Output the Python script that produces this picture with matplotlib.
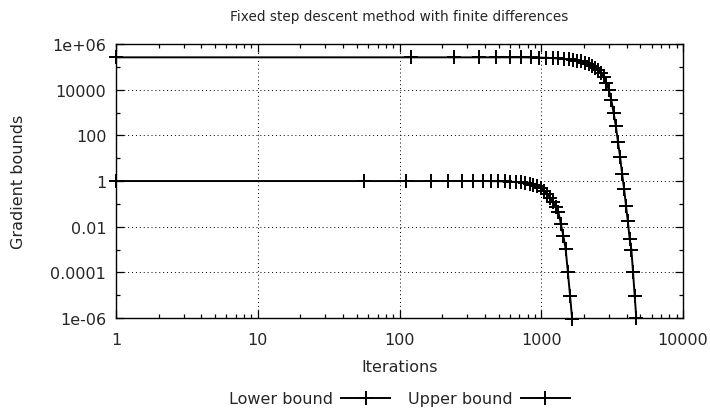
import numpy as np
import matplotlib
matplotlib.use('Agg')
import matplotlib.pyplot as plt
from matplotlib.ticker import FixedLocator, NullFormatter

# Iterations at which the markers are drawn
LOWER_ITER = [1, 56, 111, 166, 221, 276, 331, 386, 441, 496, 551, 606, 661,
              716, 771, 826, 881, 936, 991, 1046, 1101, 1156, 1211, 1266,
              1321, 1376, 1431, 1486, 1541, 1596, 1651, 1706]
LOWER_VAL = [1.0, 1.0, 1.0, 1.0, 1.0, 1.0, 1.0, 1.0, 0.99, 0.98, 0.955, 0.93,
             0.91, 0.87, 0.83, 0.78, 0.69, 0.59, 0.48, 0.37, 0.27, 0.19,
             0.12, 0.071, 0.043, 0.013, 4.0e-3, 1.05e-3, 1.0e-4, 9.5e-6,
             9.1e-7, 1.0e-7]

UPPER_ITER = [1, 121, 241, 361, 481, 601, 721, 841, 961, 1081, 1201, 1321,
              1441, 1561, 1681, 1801, 1921, 2041, 2161, 2281, 2401, 2521,
              2641, 2761, 2881, 3001, 3121, 3241, 3361, 3481, 3601, 3721,
              3841, 3961, 4081, 4201, 4321, 4441, 4561, 4681, 4801]
UPPER_VAL = [2.63e5, 2.63e5, 2.63e5, 2.63e5, 2.63e5, 2.63e5, 2.63e5, 2.6e5,
             2.57e5, 2.51e5, 2.45e5, 2.34e5, 2.24e5, 2.14e5, 2.0e5, 1.86e5,
             1.74e5, 1.55e5, 1.35e5, 1.15e5, 9.3e4, 7.2e4, 5.2e4, 3.5e4,
             2.0e4, 9.5e3, 3.5e3, 9.5e2, 2.5e2, 49.0, 11.0, 2.0, 0.45, 0.083,
             0.017, 3.0e-3, 1.0e-3, 1.0e-4, 9.5e-6, 1.0e-6, 1.0e-7]

X_TICKS = [1, 10, 100, 1000, 10000]
X_TICK_LABELS = ["1", "10", "100", "1000", "10000"]
Y_TICKS = [1e-6, 1e-4, 1e-2, 1, 1e2, 1e4, 1e6]
Y_TICK_LABELS = ["1e-06", "0.0001", "0.01", "1", "100", "10000", "1e+06"]
Y_MINOR = [1e-5, 1e-3, 1e-1, 10, 1e3, 1e5]

X_RANGE = (1, 10000)
Y_RANGE = (1e-6, 1e6)

TEXT_COLOR = "#262626"
FS = 11.5


def draw_series(ax, xs, ys, label):
    """Line clipped to the frame, '+' markers allowed to stick out of it."""
    line_kw = dict(color="black", linewidth=1.4)
    mark_kw = dict(color="black", linestyle="none", marker="+",
                   markersize=10, markeredgewidth=1.4)
    ax.plot(xs, ys, **line_kw)
    inside = [(x, y) for x, y in zip(xs, ys) if Y_RANGE[0] * 0.9 <= y <= Y_RANGE[1]]
    mx, my = zip(*inside)
    ax.plot(mx, my, clip_on=False, **mark_kw)
    # legend proxy (line + marker)
    ax.plot([], [], label=label, **line_kw, marker="+", markersize=10,
            markeredgewidth=1.4)


def main():
    fig = plt.figure(figsize=(7.1, 4.1), dpi=100)
    ax = fig.add_axes([0.1634, 0.222, 0.7986, 0.668])

    draw_series(ax, LOWER_ITER, LOWER_VAL, "Lower bound")
    draw_series(ax, UPPER_ITER, UPPER_VAL, "Upper bound")

    ax.set_xscale("log")
    ax.set_yscale("log")
    ax.set_xlim(*X_RANGE)
    ax.set_ylim(*Y_RANGE)

    ax.xaxis.set_major_locator(FixedLocator(X_TICKS))
    ax.set_xticklabels(X_TICK_LABELS)
    ax.xaxis.set_minor_locator(FixedLocator(
        [m * d for d in [1, 10, 100, 1000] for m in range(2, 10)]))
    ax.xaxis.set_minor_formatter(NullFormatter())

    ax.yaxis.set_major_locator(FixedLocator(Y_TICKS))
    ax.set_yticklabels(Y_TICK_LABELS)
    ax.yaxis.set_minor_locator(FixedLocator(Y_MINOR))
    ax.yaxis.set_minor_formatter(NullFormatter())

    ax.tick_params(which="both", direction="in", top=True, right=True,
                   labelsize=FS, labelcolor=TEXT_COLOR, width=0.9)
    ax.tick_params(which="major", length=6)
    ax.tick_params(which="minor", length=3)
    ax.tick_params(axis="x", which="major", pad=10)
    ax.tick_params(axis="y", which="major", pad=7)

    ax.grid(True, which="major", color="black", linestyle=(0, (1, 3)),
            linewidth=0.7)
    for sp in ax.spines.values():
        sp.set_linewidth(1.0)

    ax.set_title("Fixed step descent method with finite differences",
                 fontsize=9.8, color=TEXT_COLOR, pad=17)
    ax.set_xlabel("Iterations", fontsize=FS, color=TEXT_COLOR, labelpad=9)
    ax.set_ylabel("Gradient bounds", fontsize=FS, color=TEXT_COLOR,
                  labelpad=17.5)

    ax.legend(loc="upper center", bbox_to_anchor=(0.5, -0.215), ncol=2,
              frameon=False, markerfirst=False, numpoints=1,
              handlelength=3.1, handletextpad=0.5, columnspacing=1.1,
              fontsize=FS, labelcolor=TEXT_COLOR)

    fig.savefig("out.png", dpi=100)
    plt.close(fig)


if __name__ == "__main__":
    main()
